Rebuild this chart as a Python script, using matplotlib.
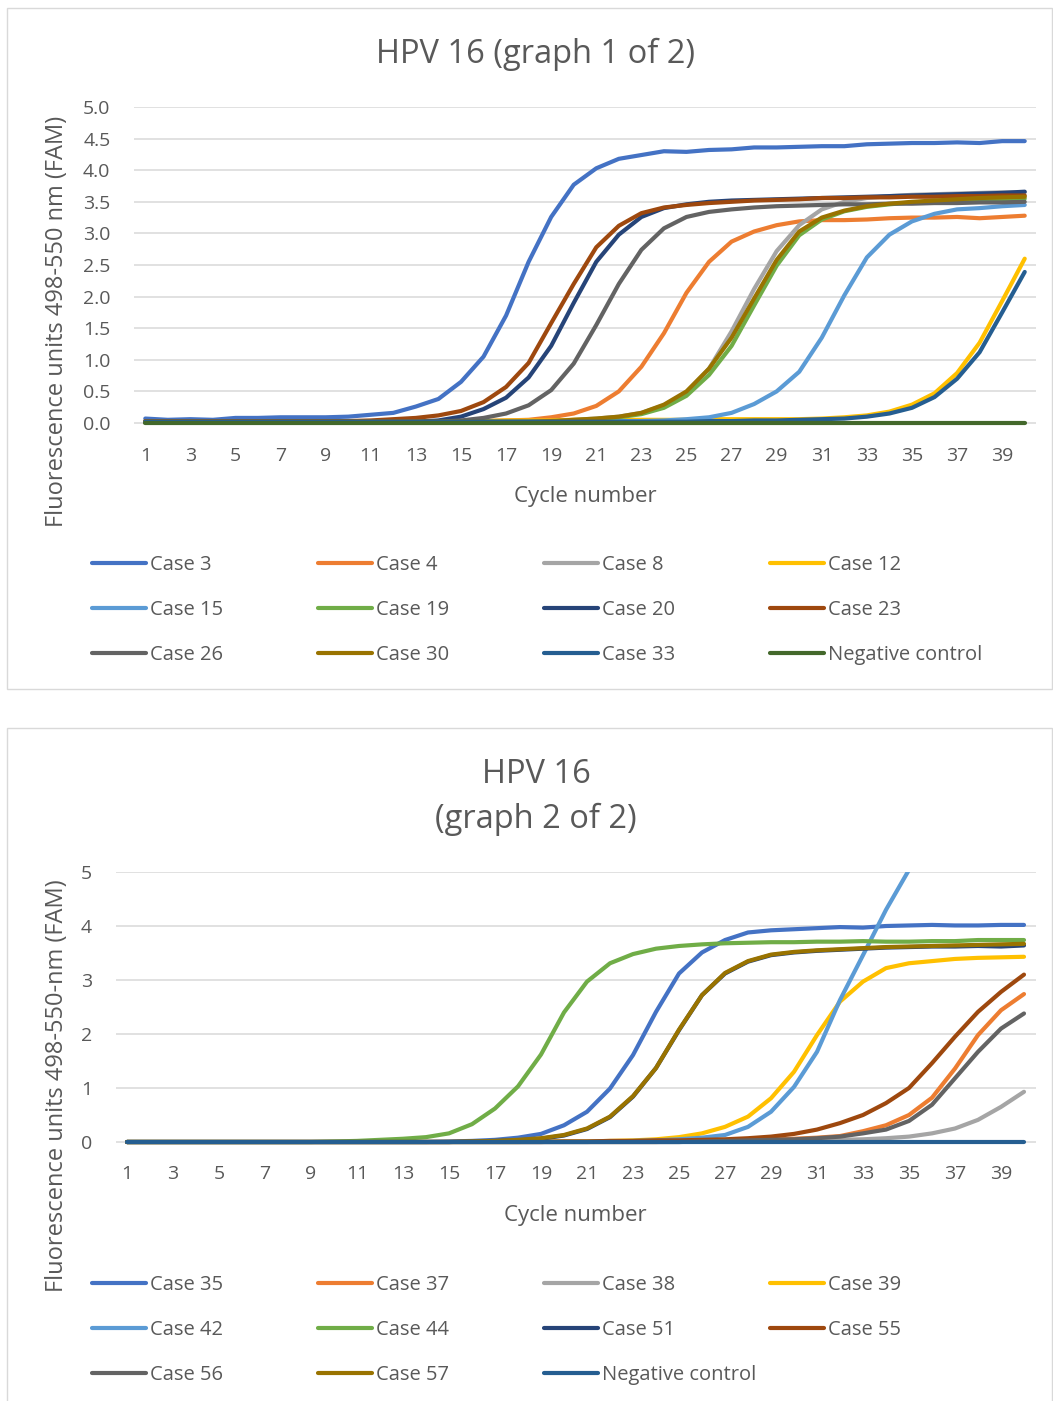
import matplotlib
matplotlib.use("Agg")
import matplotlib.pyplot as plt
from matplotlib.lines import Line2D
from matplotlib.patches import Rectangle

plt.rcParams['font.family'] = ['Open Sans', 'DejaVu Sans']

W, H = 1053, 1401
TXT = '#595959'
GRID = '#D9D9D9'

cycles = list(range(1, 41))

# ---- graph 1 ----
case3 = [0.07, 0.05, 0.06, 0.05, 0.08, 0.08, 0.09, 0.09, 0.09, 0.10,
         0.13, 0.16, 0.26, 0.38, 0.65, 1.05, 1.70, 2.55, 3.26, 3.77,
         4.03, 4.18, 4.24, 4.30, 4.29, 4.32, 4.33, 4.36, 4.36, 4.37,
         4.38, 4.38, 4.41, 4.42, 4.43, 4.43, 4.44, 4.43, 4.46, 4.46]
case4 = [0.02] * 10 + [0.02, 0.02, 0.02, 0.02, 0.02, 0.03, 0.04, 0.05, 0.09, 0.15,
                       0.27, 0.50, 0.89, 1.42, 2.06, 2.55, 2.87, 3.03, 3.13, 3.19,
                       3.21, 3.21, 3.22, 3.24, 3.25, 3.25, 3.26, 3.24, 3.26, 3.28]
case8 = [0.02] * 18 + [0.03, 0.05,
                       0.07, 0.10, 0.16, 0.28, 0.48, 0.86, 1.45, 2.12, 2.72, 3.13,
                       3.38, 3.50, 3.56, 3.59, 3.61, 3.62, 3.63, 3.64, 3.65, 3.65]
case12 = [0.02] * 12 + [0.03, 0.03, 0.03, 0.03, 0.04, 0.04, 0.04, 0.05,
                        0.05, 0.05, 0.05, 0.05, 0.05, 0.06, 0.06, 0.06, 0.06, 0.06,
                        0.07, 0.09, 0.12, 0.18, 0.29, 0.47, 0.79, 1.27, 1.93, 2.60]
case15 = [0.02] * 21 + [0.03, 0.03, 0.04, 0.06, 0.09, 0.16, 0.30, 0.50, 0.81,
                        1.35, 2.02, 2.62, 2.98, 3.19, 3.31, 3.38, 3.40, 3.43, 3.45]
case19 = [0.02] * 19 + [0.04,
                        0.06, 0.09, 0.14, 0.24, 0.43, 0.76, 1.22, 1.86, 2.49, 2.97,
                        3.22, 3.35, 3.42, 3.46, 3.49, 3.51, 3.52, 3.53, 3.54, 3.55]
case20 = [0.02] * 13 + [0.04, 0.10, 0.22, 0.40, 0.72, 1.22, 1.90,
                        2.55, 2.98, 3.26, 3.40, 3.46, 3.50, 3.52, 3.53, 3.54, 3.55,
                        3.56, 3.57, 3.58, 3.59, 3.60, 3.61, 3.62, 3.63, 3.64, 3.66]
case23 = [0.03] * 10 + [0.04, 0.06, 0.08, 0.12, 0.19, 0.33, 0.57, 0.95, 1.58, 2.20,
                        2.78, 3.12, 3.32, 3.41, 3.45, 3.48, 3.50, 3.52, 3.53, 3.54,
                        3.56, 3.56, 3.57, 3.57, 3.58, 3.58, 3.59, 3.59, 3.60, 3.60]
case26 = [0.02] * 14 + [0.04, 0.08, 0.15, 0.28, 0.52, 0.94,
                        1.55, 2.20, 2.74, 3.08, 3.26, 3.34, 3.38, 3.41, 3.43, 3.44,
                        3.45, 3.46, 3.46, 3.47, 3.47, 3.48, 3.48, 3.49, 3.49, 3.50]
case30 = [0.02] * 18 + [0.03, 0.05,
                        0.07, 0.10, 0.16, 0.29, 0.50, 0.86, 1.35, 1.97, 2.58, 3.03,
                        3.25, 3.36, 3.43, 3.47, 3.50, 3.52, 3.54, 3.56, 3.57, 3.58]
case33 = [0.02] * 25 + [0.03, 0.03, 0.04, 0.04, 0.05,
                        0.06, 0.07, 0.10, 0.15, 0.24, 0.41, 0.70, 1.12, 1.75, 2.39]
neg1 = [0.0] * 40

names1 = ['Case 3', 'Case 4', 'Case 8', 'Case 12', 'Case 15', 'Case 19',
          'Case 20', 'Case 23', 'Case 26', 'Case 30', 'Case 33', 'Negative control']
series1 = [case3, case4, case8, case12, case15, case19,
           case20, case23, case26, case30, case33, neg1]
colors1 = ['#4472C4', '#ED7D31', '#A5A5A5', '#FFC000', '#5B9BD5', '#70AD47',
           '#264478', '#9E480E', '#636363', '#997300', '#255E91', '#43682B']

# ---- graph 2 ----
case35 = [0.0] * 14 + [0.01, 0.02, 0.04, 0.08, 0.15, 0.31,
                       0.56, 0.99, 1.61, 2.41, 3.12, 3.51, 3.74, 3.88, 3.92, 3.94,
                       3.96, 3.98, 3.97, 4.00, 4.01, 4.02, 4.01, 4.01, 4.02, 4.02]
case37 = [0.0] * 24 + [0.01, 0.02, 0.03, 0.04, 0.05, 0.06,
                       0.08, 0.11, 0.20, 0.31, 0.50, 0.82, 1.36, 1.98, 2.44, 2.74]
case38 = [0.0] * 25 + [0.01, 0.01, 0.01, 0.02, 0.03,
                       0.03, 0.04, 0.05, 0.07, 0.10, 0.16, 0.25, 0.41, 0.65, 0.93]
case39 = [0.0] * 18 + [0.01, 0.01,
                       0.01, 0.02, 0.03, 0.05, 0.09, 0.16, 0.28, 0.47, 0.81, 1.30,
                       1.98, 2.60, 2.97, 3.22, 3.31, 3.35, 3.39, 3.41, 3.42, 3.43]
case42 = [0.0] * 21 + [0.01, 0.02, 0.03, 0.05, 0.08, 0.13, 0.28, 0.56, 1.02,
                       1.67, 2.63, 3.46, 4.30, 5.04, 5.50, 5.80, 5.95, 6.05, 6.10]
case44 = [0.0] * 9 + [0.01,
                      0.02, 0.04, 0.06, 0.09, 0.16, 0.33, 0.62, 1.03, 1.62, 2.40,
                      2.97, 3.31, 3.48, 3.58, 3.63, 3.66, 3.68, 3.69, 3.70, 3.70,
                      3.71, 3.71, 3.72, 3.71, 3.71, 3.72, 3.72, 3.74, 3.74, 3.74]
case51 = [0.0] * 15 + [0.01, 0.02, 0.03, 0.06, 0.12,
                       0.24, 0.46, 0.84, 1.37, 2.07, 2.72, 3.12, 3.34, 3.46, 3.51,
                       3.54, 3.56, 3.58, 3.60, 3.61, 3.62, 3.62, 3.63, 3.62, 3.64]
case55 = [0.0] * 19 + [0.01,
                       0.01, 0.02, 0.02, 0.03, 0.03, 0.04, 0.05, 0.07, 0.10, 0.15,
                       0.23, 0.35, 0.50, 0.72, 1.00, 1.46, 1.95, 2.41, 2.78, 3.10]
case56 = [0.0] * 25 + [0.01, 0.02, 0.03, 0.04, 0.05,
                       0.07, 0.10, 0.16, 0.23, 0.39, 0.69, 1.18, 1.67, 2.10, 2.38]
case57 = [0.0] * 15 + [0.01, 0.02, 0.04, 0.07, 0.13,
                       0.25, 0.47, 0.85, 1.37, 2.08, 2.72, 3.13, 3.35, 3.47, 3.52,
                       3.55, 3.57, 3.59, 3.61, 3.62, 3.63, 3.64, 3.65, 3.66, 3.67]
neg2 = [0.0] * 40

names2 = ['Case 35', 'Case 37', 'Case 38', 'Case 39', 'Case 42', 'Case 44',
          'Case 51', 'Case 55', 'Case 56', 'Case 57', 'Negative control']
series2 = [case35, case37, case38, case39, case42, case44,
           case51, case55, case56, case57, neg2]
colors2 = colors1[:11]


def fx(x):
    return x / W


def fy(y):
    return 1 - y / H


fig = plt.figure(figsize=(W / 100, H / 100), dpi=100)

# chart boxes
for top, bottom in [(8, 689), (728, 1420)]:
    fig.add_artist(Rectangle((fx(7), fy(bottom)), fx(1051.5) - fx(7), fy(top) - fy(bottom),
                             transform=fig.transFigure, fill=False,
                             edgecolor=GRID, linewidth=1.0))


def setup(ax, yticks, fmt, ylabel, lab_x, lab_y, xl_y):
    ax.set_xlim(0.5, 40.5)
    ax.set_ylim(-0.1, 5)
    ax.set_yticks(yticks)
    ax.set_yticklabels([fmt.format(v) for v in yticks])
    ax.set_xticks(cycles[::2])
    for s in ax.spines.values():
        s.set_visible(False)
    ax.tick_params(length=0, labelsize=14, labelcolor=TXT)
    ax.tick_params(axis='x', pad=13)
    ax.tick_params(axis='y', pad=17)
    ax.grid(axis='y', color=GRID, linewidth=1.1)
    ax.set_axisbelow(True)
    ax.set_xlabel('Cycle number', fontsize=16, color=TXT, va='center')
    ax.xaxis.set_label_coords(0.5, xl_y)
    ax.set_ylabel(ylabel, fontsize=17, color=TXT, va='center', ha='center')
    ax.yaxis.set_label_coords(lab_x, lab_y)


def legend(names, colors, rows_y):
    for i, (nm, c) in enumerate(zip(names, colors)):
        r, col = divmod(i, 4)
        y = rows_y[r]
        x0 = 90 + 226 * col
        fig.add_artist(Line2D([fx(x0 + 2), fx(x0 + 56)], [fy(y), fy(y)],
                              transform=fig.transFigure, color=c, linewidth=3,
                              solid_capstyle='round'))
        fig.text(fx(x0 + 60), fy(y + 2), nm, fontsize=14.5, color=TXT,
                 ha='left', va='center')


# graph 1
b1, t1 = 429.3, 107
ax1 = fig.add_axes([fx(134), fy(b1), fx(1036) - fx(134), fy(t1) - fy(b1)])
for vals, c in zip(series1, colors1):
    ax1.plot(cycles, vals, color=c, linewidth=3, solid_capstyle='round',
             solid_joinstyle='round', clip_on=False)
setup(ax1, [0, 0.5, 1, 1.5, 2, 2.5, 3, 3.5, 4, 4.5, 5], '{:.1f}',
      'Fluorescence units 498-550 nm (FAM)',
      (57 - 134) / 902, (b1 - 321) / (b1 - t1), (b1 - 497) / (b1 - t1))
fig.text(fx(536), fy(54), 'HPV 16 (graph 1 of 2)', fontsize=23.5, color=TXT,
         ha='center', va='center')
legend(names1, colors1, [563, 608, 653])

# graph 2
b2, t2 = 1147.4, 872
ax2 = fig.add_axes([fx(115.5), fy(b2), fx(1035.5) - fx(115.5), fy(t2) - fy(b2)])
for vals, c in zip(series2, colors2):
    ax2.plot(cycles, vals, color=c, linewidth=3, solid_capstyle='round',
             solid_joinstyle='round')
setup(ax2, [0, 1, 2, 3, 4, 5], '{:d}',
      'Fluorescence units 498-550-nm (FAM)',
      (57 - 115.5) / 920, (b2 - 1086) / (b2 - t2), (b2 - 1215) / (b2 - t2))
fig.text(fx(536), fy(797), 'HPV 16\n(graph 2 of 2)', fontsize=23.5, color=TXT,
         ha='center', va='center', linespacing=1.45)
legend(names2, colors2, [1283, 1328, 1373])

fig.savefig('out.png', dpi=100)
